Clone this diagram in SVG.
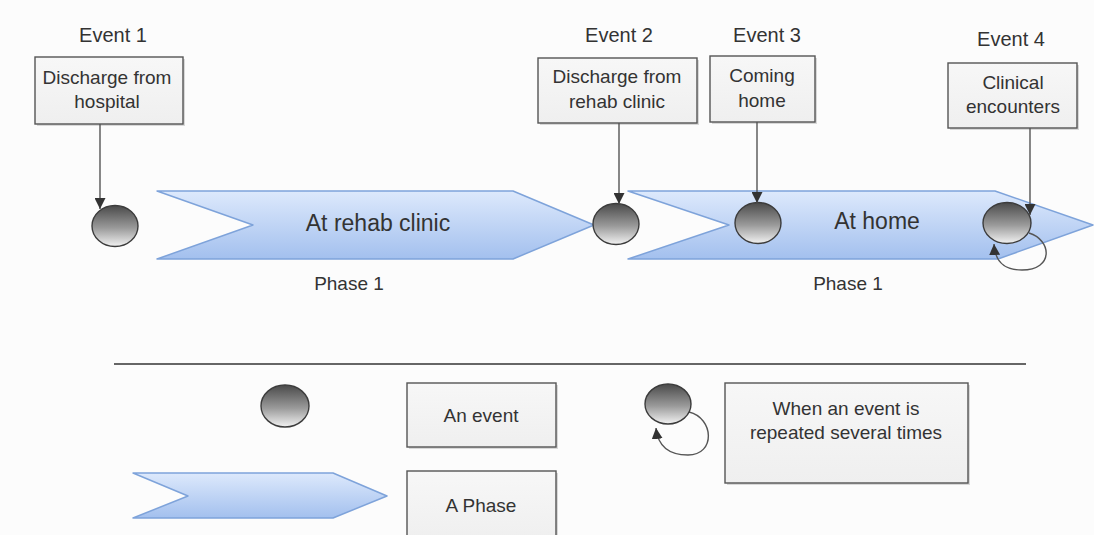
<svg xmlns="http://www.w3.org/2000/svg" width="1094" height="535" viewBox="0 0 1094 535">
  <defs>
    <linearGradient id="phaseFill" x1="0" y1="0" x2="0" y2="1">
      <stop offset="0" stop-color="#dde9fc"/>
      <stop offset="1" stop-color="#a3c0ee"/>
    </linearGradient>
    <linearGradient id="eventFill" x1="0" y1="0" x2="0" y2="1">
      <stop offset="0" stop-color="#4a4a4a"/>
      <stop offset="0.55" stop-color="#9a9a9a"/>
      <stop offset="1" stop-color="#f2f2f2"/>
    </linearGradient>
    <linearGradient id="boxFill" x1="0" y1="0" x2="0" y2="1">
      <stop offset="0" stop-color="#f7f7f7"/>
      <stop offset="1" stop-color="#efefef"/>
    </linearGradient>
    <marker id="arrow" viewBox="0 0 10 10" refX="10" refY="5" markerWidth="11" markerHeight="11" markerUnits="userSpaceOnUse" orient="auto">
      <path d="M0,0 L10,5 L0,10 Z" fill="#333"/>
    </marker>
    <style>
      .txt { font-family: "Liberation Sans", Arial, sans-serif; fill: #333; text-anchor: middle; }
      .lbl { font-size: 20px; }
      .box-txt { font-size: 19px; }
      .phase-txt { font-size: 23px; }
      .phase-lbl { font-size: 19px; }
      .box { fill: url(#boxFill); stroke: #555; stroke-width: 1.4; }
      .shadow { fill: #d8d8d8; }
      .phase { fill: url(#phaseFill); stroke: #7ea3da; stroke-width: 1.5; stroke-linejoin: round; }
      .event { fill: url(#eventFill); stroke: #3c3c3c; stroke-width: 1.4; }
      .conn { fill: none; stroke: #555; stroke-width: 1.4; marker-end: url(#arrow); }
    </style>
  </defs>

  <rect x="0" y="0" width="1094" height="535" fill="#fcfcfc"/>

  <!-- Phases -->
  <g id="phase-rehab">
    <path class="phase" d="M157,191 L513,191 L594,225 L513,259 L157,259 L253,225 Z"/>
    <text class="txt phase-txt" x="378" y="231">At rehab clinic</text>
    <text class="txt phase-lbl" x="349" y="290">Phase 1</text>
  </g>
  <g id="phase-home">
    <path class="phase" d="M628,191 L995,191 L1093,225 L998,259 L628,259 L729,225 Z"/>
    <text class="txt phase-txt" x="877" y="229">At home</text>
    <text class="txt phase-lbl" x="848" y="290">Phase 1</text>
  </g>

  <!-- Event boxes -->
  <g id="event1">
    <text class="txt lbl" x="113" y="42">Event 1</text>
    <rect class="shadow" x="37" y="59" width="148" height="67"/>
    <rect class="box" x="35" y="57" width="148" height="67"/>
    <text class="txt box-txt" x="107" y="84">Discharge from</text>
    <text class="txt box-txt" x="107" y="108">hospital</text>
  </g>
  <g id="event2">
    <text class="txt lbl" x="619" y="42">Event 2</text>
    <rect class="shadow" x="540" y="60" width="159" height="65"/>
    <rect class="box" x="538" y="58" width="159" height="65"/>
    <text class="txt box-txt" x="617" y="83">Discharge from</text>
    <text class="txt box-txt" x="617" y="108">rehab clinic</text>
  </g>
  <g id="event3">
    <text class="txt lbl" x="767" y="42">Event 3</text>
    <rect class="shadow" x="712" y="58" width="105" height="66"/>
    <rect class="box" x="710" y="56" width="105" height="66"/>
    <text class="txt box-txt" x="762" y="82">Coming</text>
    <text class="txt box-txt" x="762" y="107">home</text>
  </g>
  <g id="event4">
    <text class="txt lbl" x="1011" y="46">Event 4</text>
    <rect class="shadow" x="950" y="65" width="129" height="65"/>
    <rect class="box" x="948" y="63" width="129" height="65"/>
    <text class="txt box-txt" x="1013" y="89">Clinical</text>
    <text class="txt box-txt" x="1013" y="113">encounters</text>
  </g>

  <!-- Event markers -->
  <g id="event1-dot"><ellipse class="event" cx="115" cy="226" rx="23" ry="20.5"/></g>
  <g id="event2-dot"><ellipse class="event" cx="616" cy="224" rx="23" ry="20.5"/></g>
  <g id="event3-dot"><ellipse class="event" cx="758" cy="223" rx="23" ry="20.5"/></g>
  <g id="event4-dot"><ellipse class="event" cx="1007" cy="223" rx="24" ry="20.5"/></g>

  <!-- Connectors -->
  <g id="connectors">
    <line class="conn" x1="100" y1="124" x2="100" y2="209"/>
    <line class="conn" x1="619" y1="123" x2="619" y2="204"/>
    <line class="conn" x1="757" y1="122" x2="757" y2="203"/>
    <line class="conn" x1="1030" y1="128" x2="1030" y2="215"/>
    <path class="conn" d="M1029,233 C1052,240 1054,270 1022,270 C1004,270 995,262 994,244"/>
    <path class="conn" d="M689,412 C714,418 716,455 688,455 C670,455 658,447 656,428"/>
  </g>

  <!-- Divider -->
  <line x1="114" y1="364" x2="1026" y2="364" stroke="#666" stroke-width="2"/>

  <!-- Legend -->
  <g id="legend-event">
    <ellipse class="event" cx="285" cy="406" rx="24" ry="21"/>
    <rect class="shadow" x="409" y="385" width="149" height="64"/>
    <rect class="box" x="407" y="383" width="149" height="64"/>
    <text class="txt box-txt" x="481" y="422">An event</text>
  </g>
  <g id="legend-phase">
    <path class="phase" d="M133,473 L333,473 L387,496 L333,518 L133,518 L188,496 Z"/>
    <rect class="shadow" x="409" y="473" width="149" height="70"/>
    <rect class="box" x="407" y="471" width="149" height="70"/>
    <text class="txt box-txt" x="481" y="512">A Phase</text>
  </g>
  <g id="legend-repeat">
    <ellipse class="event" cx="668" cy="404" rx="23" ry="20"/>
    <rect class="shadow" x="727" y="385" width="243" height="100"/>
    <rect class="box" x="725" y="383" width="243" height="100"/>
    <text class="txt box-txt" x="846" y="415">When an event is</text>
    <text class="txt box-txt" x="846" y="439">repeated several times</text>
  </g>
</svg>
